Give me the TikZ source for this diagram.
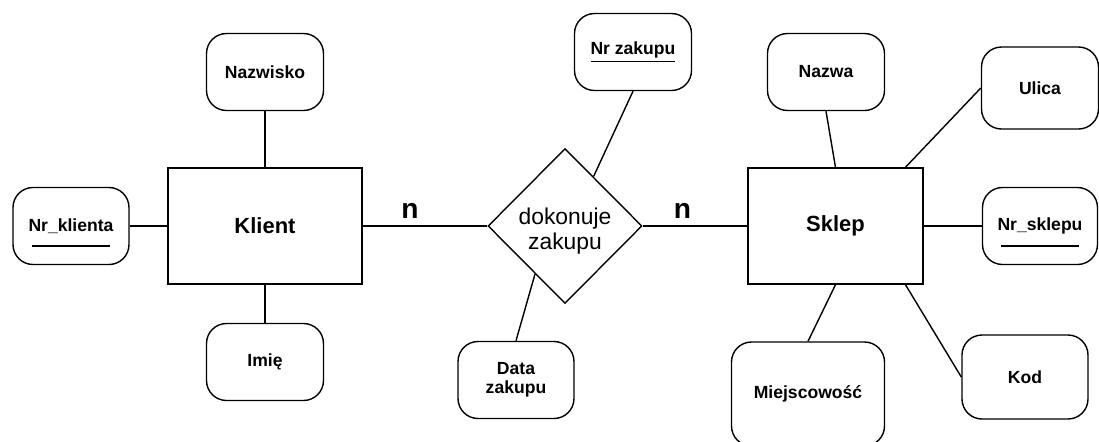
\documentclass[tikz,border=0pt]{standalone}
\usepackage{fontspec}
\setmainfont{Liberation Sans}
\usetikzlibrary{shapes.geometric}
\tikzset{
  attr/.style={draw,rounded corners=0.4cm,line width=0.8pt,align=center,
    inner sep=1pt,font=\fontsize{10}{11}\selectfont\bfseries},
  entity/.style={draw,line width=0.8pt,minimum width=3.88cm,minimum height=2.32cm,
    font=\fontsize{12.5}{15}\selectfont\bfseries},
  relation/.style={draw,diamond,line width=0.8pt,inner sep=0pt,
    minimum width=3.08cm,minimum height=3.1cm,
    font=\fontsize{13}{14}\selectfont},
  card/.style={font=\fontsize{16}{18}\selectfont\bfseries,inner sep=1pt}
}
\begin{document}
\begin{tikzpicture}[x=0.02cm,y=-0.02cm]
  \useasboundingbox (0,0) rectangle (1099,441);
  \def \Attrs{
    nazwisko/265/72/117/77/Nazwisko,
    nrk/71/226/116/77/Nr\_klienta,
    imie/265/362/117/77/Imię,
    nrz/633/52/117/77/\underline{Nr zakupu},
    dz/516/380/116/77/{Data\\zakupu},
    nazwa/826/72/117/77/Nazwa,
    ulica/1040/88/117/82/Ulica,
    nrs/1040/226/115/77/Nr\_sklepu,
    kod/1025/377/126/84/Kod,
    miej/808/394/153/104/Miejscowość}
  \def \Edges{
    nazwisko.south/klient.north,
    klient.south/imie.north,
    nrk.east/klient.west,
    nrz.south/rel.60,
    dz.north/rel.238,
    nazwa.south/sklep.north,
    ulica.west/sklep.40,
    sklep.east/nrs.west,
    sklep.-40/kod.west,
    sklep.south/miej.north}
  \node[entity] (klient) at (265,226) {Klient};
  \node[entity,minimum width=3.5cm] (sklep) at (835.5,226) {Sklep};
  \node[relation] (rel) at (565,226)
    {\raisebox{-3.5pt}[\height][\depth]{\begin{tabular}{@{}c@{}}dokonuje\\zakupu\end{tabular}}};
  \foreach \id / \x / \y / \w / \h / \txt in \Attrs{
    \node[attr,minimum width=\w*0.02cm,minimum height=\h*0.02cm] (\id) at (\x, \y) {\txt};
  }
  \foreach \a / \b in \Edges{
    \path[draw,line width=0.8pt] (\a) -- (\b);
  }
  \path[draw,line width=0.8pt] (klient.east) -- node[card,pos=.38,above=3pt] (n1) {n} (rel.west);
  \path[draw,line width=0.8pt] (rel.east) -- node[card,pos=.38,above=3pt] (n2) {n} (sklep.west);
  % key underlines
  \path[draw,line width=0.8pt] (nrk.center) ++(-39,20) -- ++(78,0);
  \path[draw,line width=0.8pt] (nrs.center) ++(-39,20) -- ++(78,0);
\end{tikzpicture}
\end{document}
